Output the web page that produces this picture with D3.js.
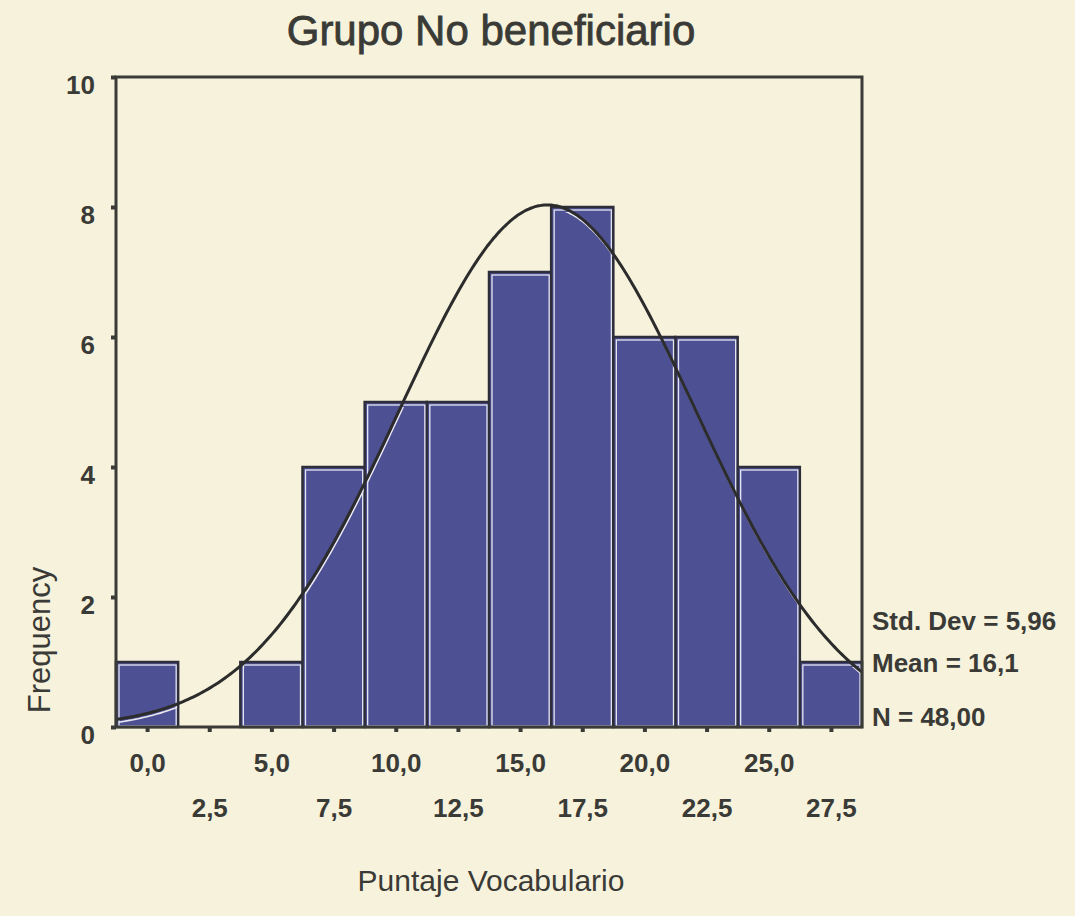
<!DOCTYPE html>
<html>
<head>
<script src="https://d3js.org/d3.v7.min.js"></script>
<style>
  body { margin: 0; background: #f6f2dc; }
  text { font-family: "Liberation Sans", Arial, sans-serif; fill: #3a3a36; }
</style>
</head>
<body>
<svg id="plot" width="1075" height="916"></svg>
<script>
// bin centres and counts
const binCenters = [0, 2.5, 5, 7.5, 10, 12.5, 15, 17.5, 20, 22.5, 25, 27.5];
const counts = [1, 0, 1, 4, 5, 5, 7, 8, 6, 6, 4, 1];
const binLabels = ["0,0", "2,5", "5,0", "7,5", "10,0", "12,5", "15,0", "17,5", "20,0", "22,5", "25,0", "27,5"];
const yTicks = [0, 2, 4, 6, 8, 10];
const stats = ["Std. Dev = 5,96", "Mean = 16,1", "N = 48,00"];
const mean = 16.1, sd = 5.96, n = 48, binWidth = 2.5;

const svg = d3.select('svg#plot');
const margin = {left: 116, right: 862, top: 77, bottom: 727};

const x = d3.scaleLinear().domain([-1.25, 28.75]).range([margin.left, margin.right]);
const y = d3.scaleLinear().domain([0, 10]).range([margin.bottom, margin.top]);

svg.append('rect').attr('width', 1075).attr('height', 916).attr('fill', '#f6f2dc');

// title
svg.append('text')
   .attr('x', 491).attr('y', 45)
   .attr('text-anchor', 'middle')
   .attr('font-size', '42px')
   .style('stroke', '#3a3a36').style('stroke-width', 0.8)
   .text('Grupo No beneficiario');

// bars
const bars = svg.append('g');
const barData = binCenters.map((c, i) => ({c: c, v: counts[i]})).filter(d => d.v > 0);
bars.selectAll('rect.outer')
    .data(barData).join('rect')
    .attr('class', 'outer')
    .attr('x', d => x(d.c - binWidth / 2))
    .attr('y', d => y(d.v))
    .attr('width', d => x(d.c + binWidth / 2) - x(d.c - binWidth / 2))
    .attr('height', d => y(0) - y(d.v))
    .attr('fill', '#4e5094')
    .attr('stroke', '#2e2e3a')
    .attr('stroke-width', 2.5);
bars.selectAll('rect.inner')
    .data(barData).join('rect')
    .attr('class', 'inner')
    .attr('x', d => x(d.c - binWidth / 2) + 3)
    .attr('y', d => y(d.v) + 3)
    .attr('width', d => x(d.c + binWidth / 2) - x(d.c - binWidth / 2) - 5)
    .attr('height', d => y(0) - y(d.v) - 4)
    .attr('fill', 'none')
    .attr('stroke', '#e4e6f2')
    .attr('stroke-width', 1.3);

// normal curve
const curvePts = d3.range(-1.25, 28.76, 0.1).map(v => {
    const z = (v - mean) / sd;
    return [v, n * binWidth / (sd * Math.sqrt(2 * Math.PI)) * Math.exp(-0.5 * z * z)];
});
const line = d3.line().x(d => x(d[0])).y(d => y(d[1])).curve(d3.curveBasis);

// white highlight of the curve inside the bars
const clip = svg.append('clipPath').attr('id', 'barclip');
clip.selectAll('rect').data(barData).join('rect')
    .attr('x', d => x(d.c - binWidth / 2) + 2)
    .attr('y', d => y(d.v) + 2)
    .attr('width', d => x(d.c + binWidth / 2) - x(d.c - binWidth / 2) - 4)
    .attr('height', d => y(0) - y(d.v) - 3);
svg.append('path')
   .datum(curvePts)
   .attr('d', line)
   .attr('transform', 'translate(1,3)')
   .attr('clip-path', 'url(#barclip)')
   .attr('fill', 'none')
   .attr('stroke', '#e8e8f0')
   .attr('stroke-width', 1.6);
svg.append('path')
   .datum(curvePts)
   .attr('d', line)
   .attr('fill', 'none')
   .attr('stroke', '#2c2c2c')
   .attr('stroke-width', 3);

// frame
svg.append('rect')
   .attr('x', margin.left).attr('y', margin.top)
   .attr('width', margin.right - margin.left)
   .attr('height', margin.bottom - margin.top)
   .attr('fill', 'none')
   .attr('stroke', '#3a3a36')
   .attr('stroke-width', 3);

// y axis (labels sit a little below their tick, as in the original)
const yAxis = svg.append('g')
   .attr('transform', `translate(${margin.left},0)`)
   .call(d3.axisLeft(y).tickValues(yTicks).tickSize(5).tickPadding(16).tickFormat(d3.format('d')));
yAxis.select('.domain').remove();
yAxis.selectAll('line').attr('stroke', '#3a3a36').attr('stroke-width', 4);
yAxis.selectAll('text').attr('font-size', '26px').attr('font-weight', 'bold').attr('fill', '#3a3a36')
     .attr('dy', '0.62em');

// x axis with staggered labels
const xAxis = svg.append('g')
   .attr('transform', `translate(0,${margin.bottom})`)
   .call(d3.axisBottom(x).tickValues(binCenters).tickSize(5).tickFormat((d, i) => binLabels[i]));
xAxis.select('.domain').remove();
xAxis.selectAll('line').attr('stroke', '#3a3a36').attr('stroke-width', 4);
xAxis.selectAll('text')
     .attr('font-size', '26px').attr('font-weight', 'bold').attr('fill', '#3a3a36')
     .attr('dy', null)
     .attr('y', (d, i) => i % 2 === 0 ? 45 : 90);

// axis titles
svg.append('text')
   .attr('x', 491).attr('y', 891)
   .attr('text-anchor', 'middle')
   .attr('font-size', '30px')
   .text('Puntaje Vocabulario');
svg.append('text')
   .attr('transform', 'translate(50,640) rotate(-90)')
   .attr('text-anchor', 'middle')
   .attr('font-size', '31px')
   .text('Frequency');

// stats box
svg.selectAll('text.stat')
   .data(stats).join('text')
   .attr('class', 'stat')
   .attr('x', 872)
   .attr('y', (d, i) => [630, 672, 726][i])
   .attr('font-size', '26px')
   .attr('font-weight', 'bold')
   .text(d => d);
</script>
</body>
</html>
